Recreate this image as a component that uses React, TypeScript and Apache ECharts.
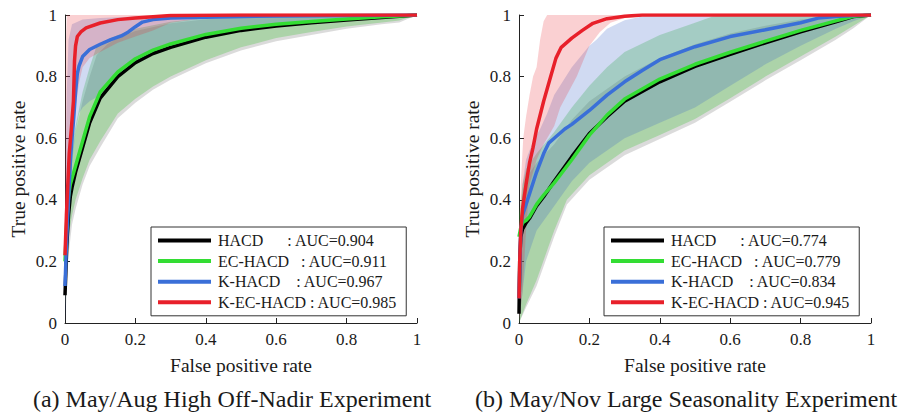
import React, { useEffect, useRef } from "react";
import * as echarts from "echarts";

type Pt = [number, number];

const SERIES_NAMES = ["HACD", "EC-HACD", "K-HACD", "K-EC-HACD"];
const LEGEND_SPACES = [6, 3, 4, 1];
const AUC_A = ["0.904", "0.911", "0.967", "0.985"];
const AUC_B = ["0.774", "0.779", "0.834", "0.945"];
const CAPTION_A = "(a) May/Aug High Off-Nadir Experiment";
const CAPTION_B = "(b) May/Nov Large Seasonality Experiment";
const X_TITLE = "False positive rate";
const Y_TITLE = "True positive rate";

// ---- Panel (a): mean ROC curves ----
const A_HACD: Pt[] = [[0,0.09],[0.005,0.25],[0.01,0.35],[0.015,0.41],[0.02,0.44],[0.03,0.49],[0.05,0.57],[0.07,0.65],[0.1,0.73],[0.15,0.8],[0.2,0.845],[0.25,0.875],[0.3,0.895],[0.4,0.928],[0.5,0.95],[0.6,0.964],[0.7,0.975],[0.8,0.984],[0.9,0.992],[0.95,0.996],[1,1]];
const A_EC: Pt[] = [[0,0.2],[0.005,0.33],[0.01,0.41],[0.015,0.45],[0.02,0.47],[0.03,0.51],[0.05,0.59],[0.07,0.67],[0.1,0.75],[0.15,0.815],[0.2,0.858],[0.25,0.886],[0.3,0.906],[0.4,0.937],[0.5,0.957],[0.6,0.97],[0.7,0.979],[0.8,0.987],[0.9,0.994],[0.95,0.997],[1,1]];
const A_K: Pt[] = [[0,0.12],[0.004,0.25],[0.008,0.35],[0.012,0.45],[0.016,0.54],[0.02,0.6],[0.025,0.67],[0.03,0.75],[0.035,0.81],[0.04,0.835],[0.05,0.865],[0.07,0.888],[0.1,0.905],[0.13,0.92],[0.16,0.932],[0.18,0.945],[0.2,0.962],[0.22,0.977],[0.25,0.985],[0.3,0.99],[0.4,0.993],[0.6,0.997],[1,1]];
const A_KEC: Pt[] = [[0,0.22],[0.004,0.35],[0.008,0.45],[0.012,0.55],[0.018,0.63],[0.024,0.72],[0.027,0.85],[0.03,0.9],[0.035,0.93],[0.045,0.945],[0.06,0.958],[0.1,0.974],[0.15,0.985],[0.2,0.99],[0.3,0.998],[0.5,1],[1,1]];

// ---- Panel (a): spread bands ----
const A_HACD_LO: Pt[] = [[0,0],[0.005,0.1],[0.01,0.22],[0.02,0.32],[0.03,0.37],[0.05,0.45],[0.07,0.51],[0.1,0.57],[0.15,0.665],[0.2,0.715],[0.25,0.757],[0.3,0.79],[0.4,0.843],[0.5,0.885],[0.6,0.915],[0.7,0.935],[0.8,0.955],[0.9,0.97],[0.95,0.976],[0.97,0.985],[1,1]];
const A_HACD_HI: Pt[] = [[0,0.25],[0.005,0.38],[0.01,0.47],[0.02,0.55],[0.03,0.62],[0.05,0.72],[0.07,0.8],[0.09,0.87],[0.12,0.905],[0.15,0.925],[0.2,0.948],[0.3,0.973],[0.4,0.986],[0.5,0.993],[0.7,0.998],[1,1]];
const A_EC_LO: Pt[] = [[0,0.05],[0.005,0.15],[0.01,0.28],[0.02,0.35],[0.03,0.4],[0.05,0.47],[0.07,0.53],[0.1,0.59],[0.15,0.68],[0.2,0.728],[0.25,0.768],[0.3,0.8],[0.4,0.853],[0.5,0.895],[0.6,0.925],[0.7,0.945],[0.8,0.963],[0.9,0.976],[0.95,0.982],[0.97,0.99],[1,1]];
const A_EC_HI: Pt[] = [[0,0.3],[0.005,0.42],[0.01,0.5],[0.02,0.58],[0.03,0.64],[0.05,0.75],[0.07,0.83],[0.09,0.9],[0.12,0.92],[0.15,0.935],[0.2,0.955],[0.3,0.978],[0.4,0.99],[0.5,0.996],[0.7,0.999],[1,1]];
const A_K_LO: Pt[] = [[0,0],[0.005,0.15],[0.01,0.28],[0.015,0.4],[0.02,0.52],[0.03,0.62],[0.04,0.68],[0.05,0.7],[0.07,0.72],[0.1,0.74],[0.15,0.805],[0.2,0.848],[0.3,0.895],[0.4,0.928],[0.5,0.95],[0.6,0.963],[0.7,0.975],[0.8,0.984],[0.9,0.992],[1,1]];
const A_K_HI: Pt[] = [[0,0.35],[0.005,0.75],[0.01,0.92],[0.02,0.97],[0.05,0.985],[0.1,0.99],[0.2,0.995],[0.3,0.999],[0.4,1],[1,1]];
const A_KEC_LO: Pt[] = [[0,0.05],[0.005,0.2],[0.01,0.35],[0.02,0.55],[0.03,0.7],[0.04,0.78],[0.05,0.83],[0.07,0.86],[0.1,0.88],[0.15,0.91],[0.2,0.93],[0.25,0.95],[0.3,0.975],[0.4,0.99],[0.5,0.997],[0.6,1],[1,1]];
const A_KEC_HI: Pt[] = [[0,0.5],[0.002,0.9],[0.005,1],[1,1]];

// ---- Panel (b): mean ROC curves ----
const B_HACD: Pt[] = [[0,0.03],[0.002,0.2],[0.005,0.28],[0.01,0.305],[0.02,0.325],[0.03,0.34],[0.05,0.38],[0.07,0.41],[0.1,0.46],[0.15,0.54],[0.2,0.615],[0.25,0.67],[0.3,0.72],[0.4,0.783],[0.5,0.833],[0.6,0.872],[0.7,0.91],[0.8,0.945],[0.9,0.978],[0.95,0.995],[1,1]];
const B_EC: Pt[] = [[0,0.28],[0.005,0.31],[0.01,0.325],[0.02,0.333],[0.03,0.345],[0.04,0.365],[0.05,0.385],[0.07,0.415],[0.1,0.455],[0.15,0.53],[0.2,0.61],[0.25,0.675],[0.3,0.727],[0.4,0.792],[0.5,0.84],[0.6,0.879],[0.7,0.915],[0.8,0.95],[0.9,0.981],[0.95,0.996],[1,1]];
const B_K: Pt[] = [[0,0.08],[0.005,0.3],[0.01,0.35],[0.02,0.385],[0.03,0.42],[0.05,0.49],[0.07,0.55],[0.085,0.585],[0.1,0.6],[0.13,0.63],[0.15,0.645],[0.2,0.69],[0.25,0.74],[0.3,0.783],[0.35,0.82],[0.4,0.855],[0.5,0.897],[0.6,0.93],[0.7,0.952],[0.8,0.975],[0.85,0.99],[0.9,0.995],[0.95,0.998],[1,1]];
const B_KEC: Pt[] = [[0,0.08],[0.002,0.2],[0.005,0.3],[0.01,0.37],[0.02,0.45],[0.03,0.52],[0.04,0.57],[0.05,0.63],[0.07,0.72],[0.09,0.8],[0.105,0.86],[0.12,0.895],[0.15,0.925],[0.18,0.95],[0.21,0.973],[0.25,0.988],[0.3,0.996],[0.35,1],[1,1]];

// ---- Panel (b): spread bands ----
const B_HACD_LO: Pt[] = [[0,0],[0.02,0.05],[0.05,0.12],[0.1,0.28],[0.136,0.385],[0.2,0.465],[0.3,0.545],[0.4,0.597],[0.5,0.65],[0.6,0.718],[0.7,0.788],[0.8,0.853],[0.9,0.92],[0.95,0.957],[1,1]];
const B_HACD_HI: Pt[] = [[0,0.3],[0.01,0.42],[0.02,0.47],[0.05,0.52],[0.1,0.58],[0.15,0.66],[0.2,0.72],[0.3,0.8],[0.4,0.86],[0.5,0.905],[0.6,0.94],[0.7,0.965],[0.8,0.985],[0.9,0.995],[1,1]];
const B_EC_LO: Pt[] = [[0,0],[0.02,0.06],[0.05,0.14],[0.1,0.3],[0.136,0.4],[0.2,0.48],[0.3,0.56],[0.4,0.61],[0.5,0.662],[0.6,0.73],[0.7,0.8],[0.8,0.865],[0.9,0.93],[0.95,0.965],[1,1]];
const B_EC_HI: Pt[] = [[0,0.35],[0.01,0.45],[0.02,0.5],[0.05,0.55],[0.1,0.62],[0.15,0.7],[0.2,0.77],[0.25,0.83],[0.3,0.88],[0.4,0.935],[0.5,0.975],[0.55,0.995],[0.6,1],[1,1]];
const B_K_LO: Pt[] = [[0,0],[0.02,0.2],[0.05,0.3],[0.1,0.38],[0.15,0.46],[0.2,0.52],[0.3,0.6],[0.4,0.65],[0.5,0.7],[0.6,0.77],[0.7,0.84],[0.8,0.9],[0.9,0.955],[0.95,0.98],[1,1]];
const B_K_HI: Pt[] = [[0,0.1],[0.01,0.45],[0.02,0.53],[0.04,0.59],[0.06,0.63],[0.08,0.68],[0.1,0.74],[0.15,0.83],[0.2,0.9],[0.22,0.92],[0.25,0.955],[0.3,0.983],[0.35,0.995],[0.4,1],[1,1]];
const B_KEC_LO: Pt[] = [[0,0],[0.01,0.1],[0.02,0.3],[0.03,0.45],[0.05,0.53],[0.07,0.58],[0.08,0.6],[0.1,0.64],[0.117,0.7],[0.164,0.8],[0.2,0.9],[0.23,0.945],[0.26,0.975],[0.3,0.99],[0.4,1],[1,1]];
const B_KEC_HI: Pt[] = [[0,0.1],[0.005,0.45],[0.012,0.6],[0.02,0.67],[0.03,0.74],[0.04,0.8],[0.05,0.83],[0.06,0.92],[0.07,0.98],[0.08,1],[1,1]];

const LINE_COLORS = ["#000000", "#33dd33", "#3a6fd8", "#e8202a"];
const BAND_COLORS = ["rgba(0,0,0,0.14)", "rgba(50,190,40,0.28)", "rgba(60,100,200,0.24)", "rgba(230,40,50,0.22)"];
const FONT = "Liberation Serif";
const TEXT_COLOR = "#1a1a1a";

const PANELS = [
  { lines: [A_HACD, A_EC, A_K, A_KEC], lows: [A_HACD_LO, A_EC_LO, A_K_LO, A_KEC_LO], highs: [A_HACD_HI, A_EC_HI, A_K_HI, A_KEC_HI], auc: AUC_A, caption: CAPTION_A, gridLeft: 65, legendLeft: 151, captionX: 232 },
  { lines: [B_HACD, B_EC, B_K, B_KEC], lows: [B_HACD_LO, B_EC_LO, B_K_LO, B_KEC_LO], highs: [B_HACD_HI, B_EC_HI, B_K_HI, B_KEC_HI], auc: AUC_B, caption: CAPTION_B, gridLeft: 519, legendLeft: 604, captionX: 686 },
];

function buildOption() {
  const grid: any[] = [];
  const xAxis: any[] = [];
  const yAxis: any[] = [];
  const series: any[] = [];
  const legend: any[] = [];
  const graphic: any[] = [];

  PANELS.forEach((p, pi) => {
    grid.push({ left: p.gridLeft, top: 15, width: 352, height: 308 });
    const labelStyle = { fontFamily: FONT, fontSize: 17, color: TEXT_COLOR, margin: 8 };
    const axisCommon = {
      gridIndex: pi,
      type: "value",
      min: 0,
      max: 1,
      interval: 0.2,
      splitLine: { show: false },
      axisLine: { show: true, lineStyle: { color: "#222", width: 1 } },
      axisTick: { show: true, inside: true, length: 5, lineStyle: { color: "#222", width: 1 } },
      axisLabel: labelStyle,
      nameLocation: "middle",
      nameTextStyle: { fontFamily: FONT, fontSize: 19.5, color: TEXT_COLOR },
    };
    xAxis.push({ ...axisCommon, name: X_TITLE, nameGap: 32 });
    yAxis.push({ ...axisCommon, name: Y_TITLE, nameGap: 37 });

    p.lows.forEach((lo, si) => {
      const hi = p.highs[si];
      series.push({
        type: "custom",
        name: SERIES_NAMES[si] + " band " + pi,
        xAxisIndex: pi,
        yAxisIndex: pi,
        silent: true,
        z: 1,
        data: [[0, 0]],
        renderItem: (_params: any, api: any) => {
          const pts = hi.map((q) => api.coord(q)).concat(lo.slice().reverse().map((q) => api.coord(q)));
          return { type: "polygon", shape: { points: pts }, style: { fill: BAND_COLORS[si] } };
        },
      });
    });

    p.lines.forEach((d, si) => {
      series.push({
        type: "line",
        name: SERIES_NAMES[si],
        xAxisIndex: pi,
        yAxisIndex: pi,
        data: d,
        showSymbol: false,
        symbol: "none",
        silent: true,
        z: 3 + si,
        lineStyle: { color: LINE_COLORS[si], width: 3.5 },
        itemStyle: { color: LINE_COLORS[si] },
      });
    });

    legend.push({
      orient: "vertical",
      left: p.legendLeft,
      top: 227,
      data: SERIES_NAMES,
      icon: "rect",
      itemWidth: 53,
      itemHeight: 4,
      itemGap: 4.6,
      padding: [5.5, 9, 5.5, 7],
      borderColor: "#333",
      borderWidth: 1,
      backgroundColor: "#fff",
      selectedMode: false,
      textStyle: { fontFamily: FONT, fontSize: 16, color: TEXT_COLOR, lineHeight: 15, padding: [0, 0, 0, 2] },
      formatter: (name: string) => {
        const i = SERIES_NAMES.indexOf(name);
        return name + "\u00A0".repeat(LEGEND_SPACES[i]) + ": AUC=" + p.auc[i];
      },
    });

    graphic.push({
      type: "text",
      x: p.captionX,
      y: 399,
      style: { text: p.caption, fontFamily: FONT, fontSize: 24, fill: TEXT_COLOR, textAlign: "center", textVerticalAlign: "middle" },
    });
  });

  return { animation: false, backgroundColor: "#fff", textStyle: { fontFamily: FONT }, grid, xAxis, yAxis, series, legend, graphic };
}

export default function App() {
  const ref = useRef<HTMLDivElement>(null);
  useEffect(() => {
    if (!ref.current) return;
    const chart = echarts.init(ref.current, undefined, { renderer: "svg" });
    chart.setOption(buildOption() as any);
    return () => chart.dispose();
  }, []);
  return <div ref={ref} style={{ position: "absolute", left: 0, top: 0, width: 898, height: 414 }} />;
}
